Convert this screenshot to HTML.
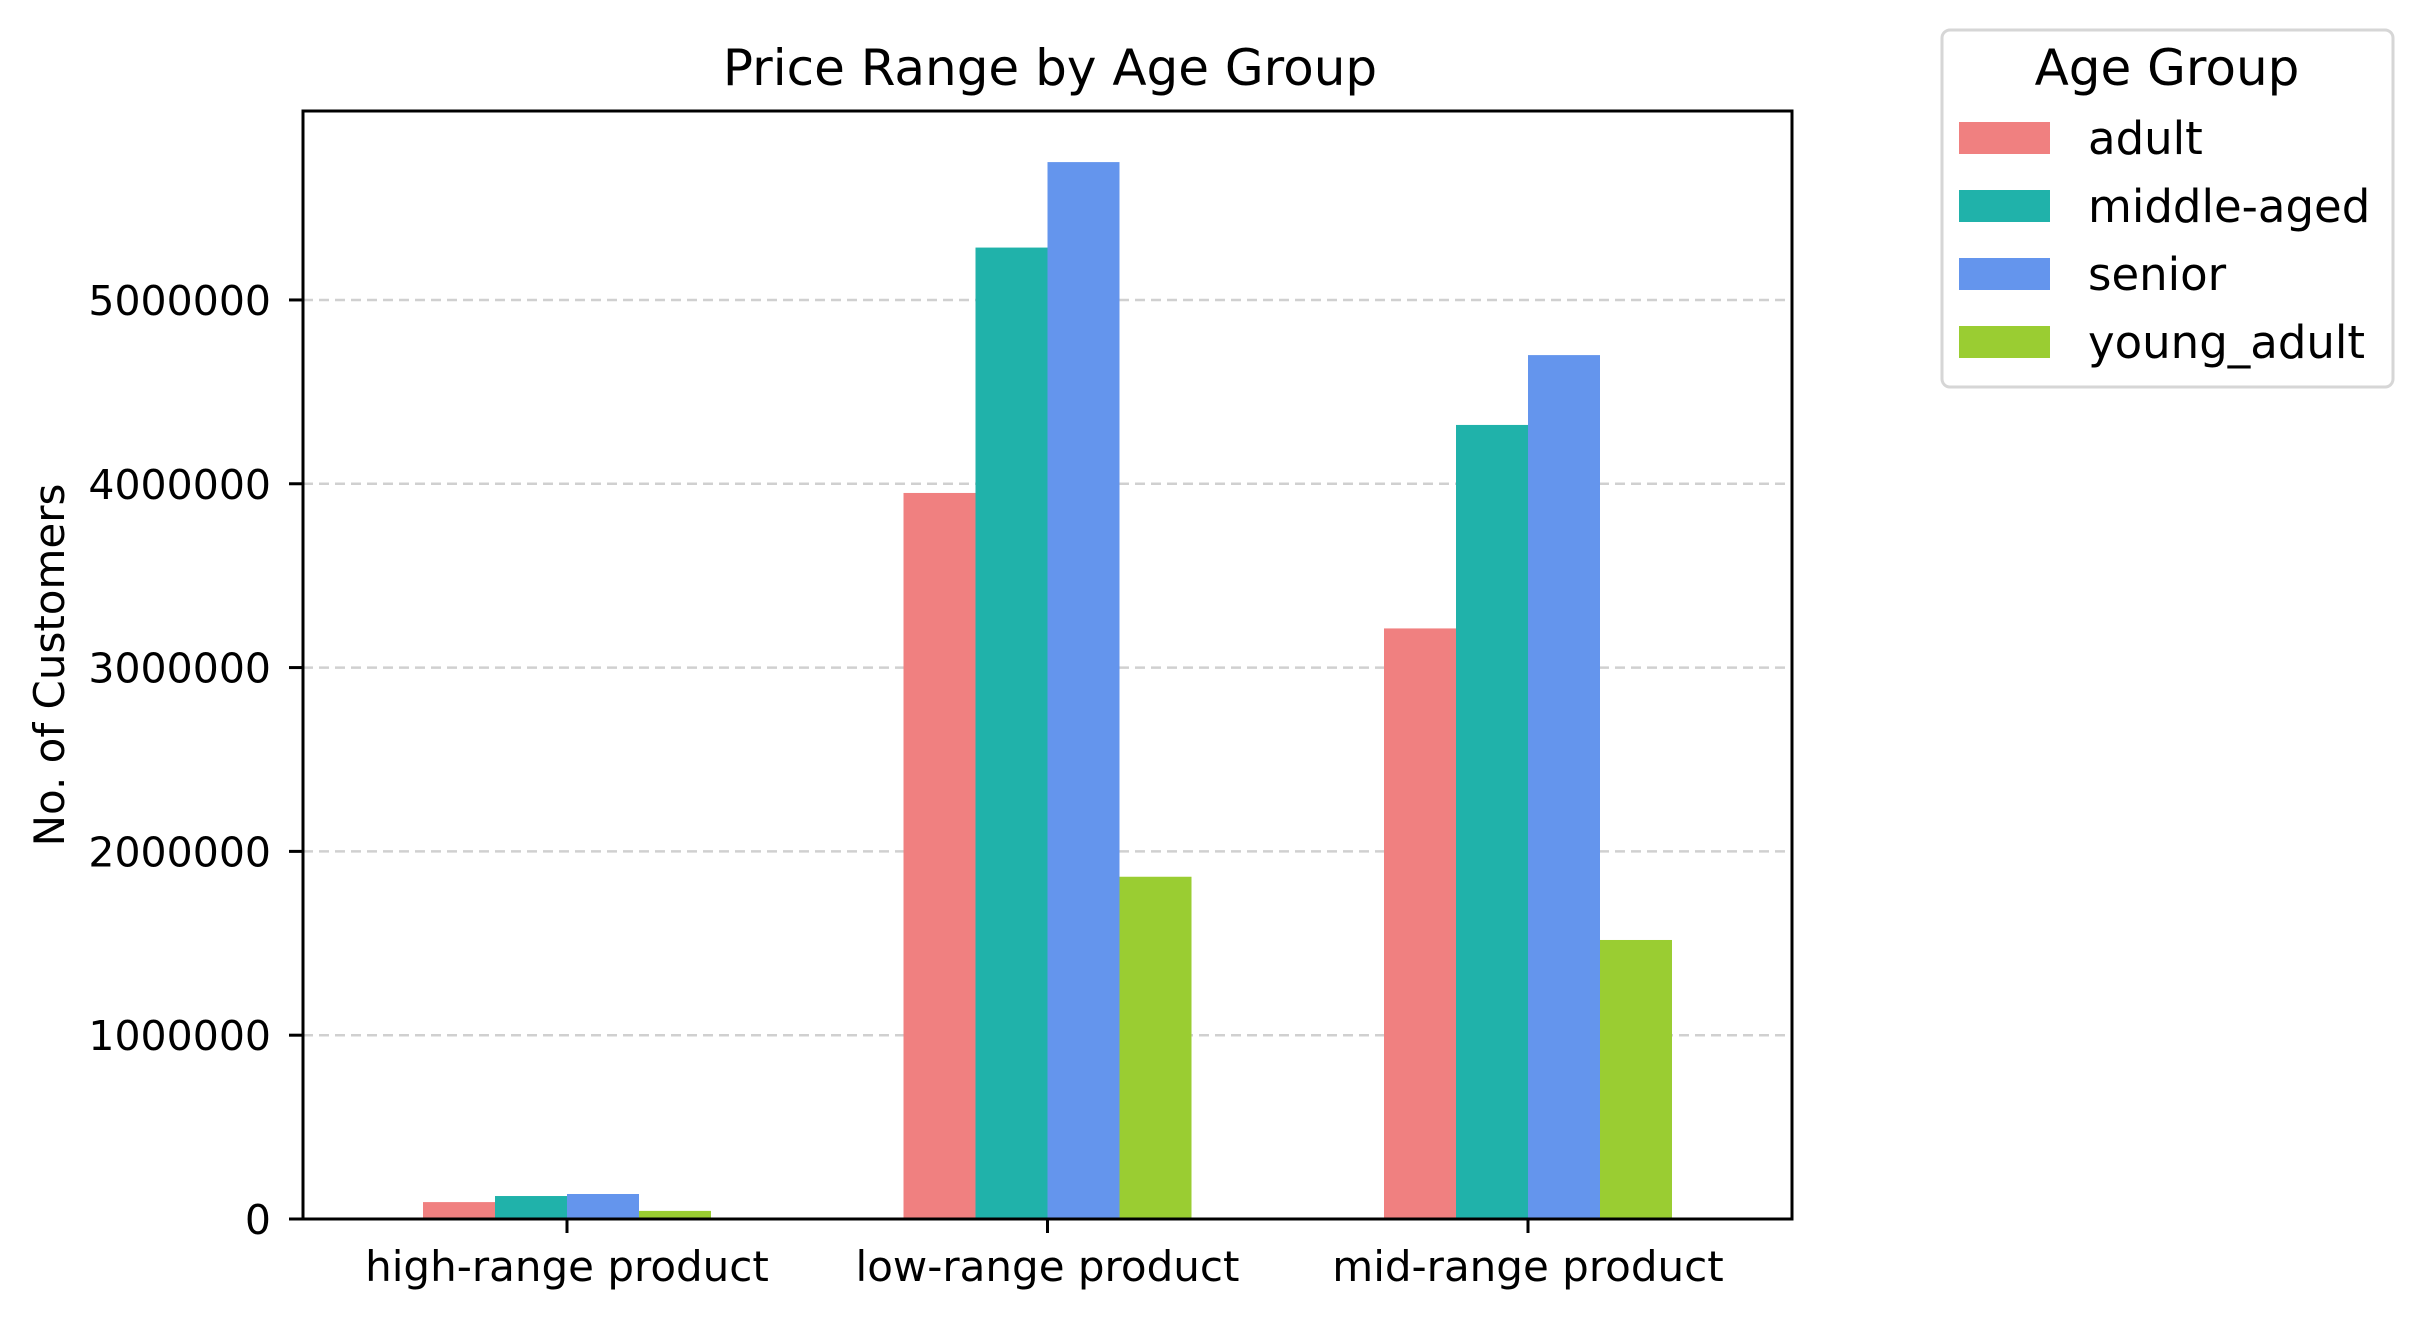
<!DOCTYPE html>
<html><head><meta charset="utf-8"><style>
html,body{margin:0;padding:0;background:#fff;}
svg{display:block;font-family:"DejaVu Sans","Liberation Sans",sans-serif;}
</style></head><body>
<svg id="chart" width="2422" height="1320" viewBox="0 0 2422 1320">
<g id="grid"></g>
<g id="bars"></g>
<rect x="303" y="111" width="1489" height="1108" fill="none" stroke="#000" stroke-width="3"/>
<g id="yticks"></g>
<g id="xticks"></g>
<text x="1050" y="85" font-size="50" text-anchor="middle">Price Range by Age Group</text>
<text transform="translate(64,665) rotate(-90)" font-size="42" text-anchor="middle">No. of Customers</text>
<g id="legend">
<rect x="1942" y="30" width="451" height="357" rx="8" fill="#fff" stroke="#d6d6d6" stroke-width="3"/>
<text x="2167" y="85" font-size="50" text-anchor="middle">Age Group</text>
</g>
</svg>
<script>
const categories = ["high-range product", "low-range product", "mid-range product"];
const seriesNames = ["adult", "middle-aged", "senior", "young_adult"];
const seriesColors = ["#f08080", "#20b2aa", "#6495ed", "#9acd32"];
const adultValues = [92000, 3950000, 3213000];
const middleAgedValues = [125000, 5285000, 4320000];
const seniorValues = [136000, 5750000, 4700000];
const youngAdultValues = [44000, 1862000, 1518000];
const yTicks = [0, 1000000, 2000000, 3000000, 4000000, 5000000];
const yTickLabels = ["0", "1000000", "2000000", "3000000", "4000000", "5000000"];

const series = [adultValues, middleAgedValues, seniorValues, youngAdultValues];
const NS = "http://www.w3.org/2000/svg";
const L = 303, R = 1792, T = 111, B = 1219;
const yMax = 6028000;
function y(v) { return B - (v / yMax) * (B - T); }
const step = 480.5, x0 = 567, bw = 72;
function x(i) { return x0 + i * step; }
function mk(tag, attrs, parent) {
  const e = document.createElementNS(NS, tag);
  for (const k in attrs) e.setAttribute(k, attrs[k]);
  parent.appendChild(e);
  return e;
}
const grid = document.getElementById('grid');
const yt = document.getElementById('yticks');
yTicks.forEach((v, i) => {
  if (v > 0) {
    const g = mk('line', {x1: L, x2: R, y1: y(v), y2: y(v), stroke: '#d0d0d0', 'stroke-width': 2.5, 'stroke-dasharray': '10 6'}, grid);
    
    
  }
  const t = mk('line', {x1: L - 14, x2: L, y1: y(v), y2: y(v), stroke: '#000', 'stroke-width': 3}, yt);
  
  
  const lb = mk('text', {x: 271, y: y(v) + 15, 'font-size': 41, 'text-anchor': 'end'}, yt);
  lb.textContent = yTickLabels[i];
  
  
});
const xt = document.getElementById('xticks');
categories.forEach((c, i) => {
  const t = mk('line', {x1: x(i), x2: x(i), y1: B, y2: B + 14, stroke: '#000', 'stroke-width': 3}, xt);
  
  
  const lb = mk('text', {x: x(i), y: 1281, 'font-size': 42, 'text-anchor': 'middle'}, xt);
  lb.textContent = c;
  
  
});
const bars = document.getElementById('bars');
series.forEach((vals, s) => {
  vals.forEach((v, i) => {
    const bx = x(i) - 2 * bw + s * bw;
    const r = mk('rect', {x: bx, y: y(v), width: bw, height: B - y(v), fill: seriesColors[s]}, bars);
    
    
  });
});
const leg = document.getElementById('legend');
seriesNames.forEach((n, s) => {
  const yy = 122 + s * 68;
  const p = mk('rect', {x: 1959, y: yy, width: 91, height: 32, fill: seriesColors[s]}, leg);
  
  
  const t = mk('text', {x: 2088, y: yy + 32, 'font-size': 45}, leg);
  t.textContent = n;
  
  
});
</script>
</body></html>
